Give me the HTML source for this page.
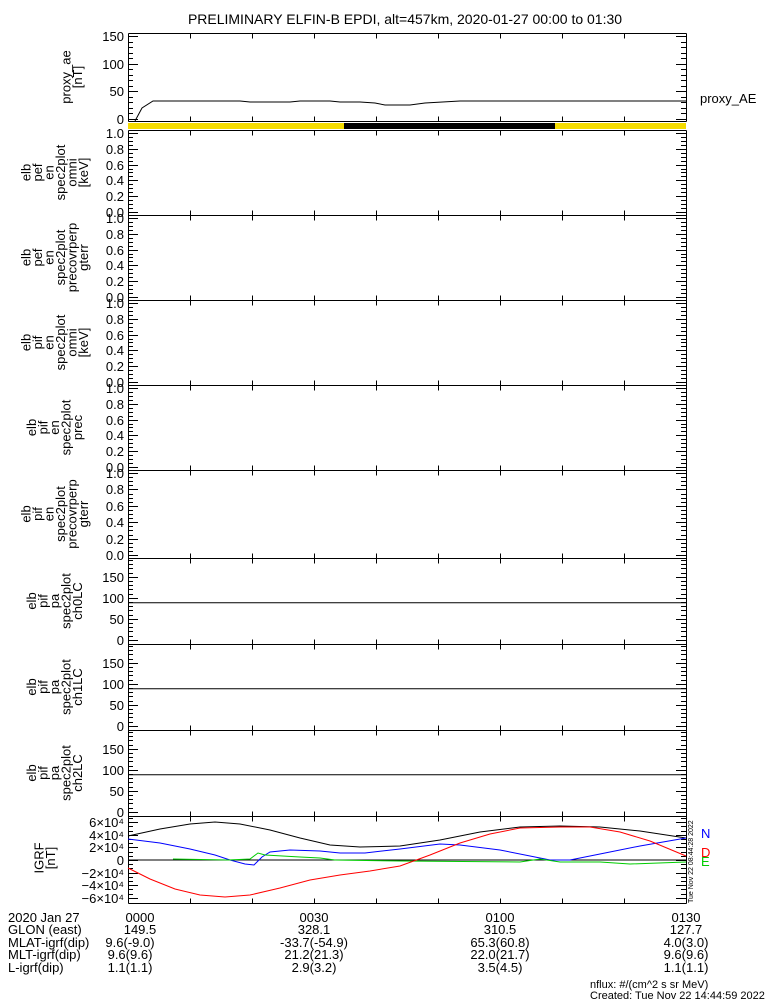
<!DOCTYPE html>
<html><head><meta charset="utf-8"><style>
html,body{margin:0;padding:0;background:#fff;}
svg{display:block;font-family:"Liberation Sans",sans-serif;}
</style></head><body>
<svg id="s" width="775" height="1000" viewBox="0 0 775 1000" xmlns="http://www.w3.org/2000/svg">
<text x="405" y="24" font-size="14" text-anchor="middle">PRELIMINARY ELFIN-B EPDI, alt=457km, 2020-01-27 00:00 to 01:30</text>
<g id="g" stroke="#000" fill="none" stroke-width="1"></g>
<g id="t" font-size="13" fill="#000"></g>
<rect x="128" y="123" width="216" height="6" fill="#f5dc00"/>
<rect x="344" y="123" width="211" height="6" fill="#000"/>
<rect x="555" y="123" width="131" height="6" fill="#f5dc00"/>
<polyline fill="none" stroke="#000" points="135,121 142,108 153,101 240,101 250,102 290,102 300,101 330,101 340,102 360,102 375,103 385,105 410,105 425,103 460,101 686,101"/>
<line x1="128" y1="860" x2="686" y2="860" stroke="#000"/>
<polyline fill="none" stroke="#000" points="128,836 160,829 190,824 215,822 240,824 270,830 300,838 330,845 360,847 400,846 440,840 480,832 520,827 560,826 600,827 640,831 686,838"/>
<polyline fill="none" stroke="#00f" points="128,839 160,843 190,849 215,855 230,860 245,864 254,865 262,857 270,852 290,850 320,851 340,853 365,853 400,849 440,844 460,845 500,850 530,856 550,860 570,860 600,854 640,846 686,838"/>
<polyline fill="none" stroke="#0c0" points="173,859 228,860 250,859 258,853 265,855 300,857 320,858 335,860 400,861 520,862 540,859 560,862 600,862 630,864 686,862"/>
<polyline fill="none" stroke="#f00" points="128,868 150,879 175,889 200,895 225,897 250,895 280,888 310,880 340,875 370,871 400,866 430,855 460,843 490,834 520,828 560,827 590,827 620,832 650,841 686,856"/>
<text x="700" y="103" font-size="13">proxy_AE</text>
<text x="701" y="838" font-size="13" fill="#00f">N</text>
<text x="701" y="857" font-size="13" fill="#f00">D</text>
<text x="701" y="866" font-size="13" fill="#0c0">E</text>
<text transform="translate(693,903) rotate(-90)" font-size="7">Tue Nov 22 08:44:28 2022</text>
<g font-size="13">
<text x="8" y="922">2020 Jan 27</text><text x="8" y="934">GLON (east)</text><text x="8" y="947">MLAT-igrf(dip)</text><text x="8" y="959">MLT-igrf(dip)</text><text x="8" y="972">L-igrf(dip)</text>
<g text-anchor="middle">
<text x="140" y="922">0000</text><text x="140" y="934">149.5</text><text x="130" y="947">9.6(-9.0)</text><text x="130" y="959">9.6(9.6)</text><text x="130" y="972">1.1(1.1)</text>
<text x="314" y="922">0030</text><text x="314" y="934">328.1</text><text x="314" y="947">-33.7(-54.9)</text><text x="314" y="959">21.2(21.3)</text><text x="314" y="972">2.9(3.2)</text>
<text x="500" y="922">0100</text><text x="500" y="934">310.5</text><text x="500" y="947">65.3(60.8)</text><text x="500" y="959">22.0(21.7)</text><text x="500" y="972">3.5(4.5)</text>
<text x="686" y="922">0130</text><text x="686" y="934">127.7</text><text x="686" y="947">4.0(3.0)</text><text x="686" y="959">9.6(9.6)</text><text x="686" y="972">1.1(1.1)</text>
</g>
<text x="590" y="988" font-size="11">nflux: #/(cm^2 s sr MeV)</text>
<text x="590" y="999" font-size="11">Created: Tue Nov 22 14:44:59 2022</text>
</g>
</svg>
<script>
var g=document.getElementById('g'),t=document.getElementById('t'),NS='http://www.w3.org/2000/svg';
function L(x1,y1,x2,y2){var l=document.createElementNS(NS,'line');l.setAttribute('x1',x1);l.setAttribute('y1',y1);l.setAttribute('x2',x2);l.setAttribute('y2',y2);g.appendChild(l);}
function T(x,y,s,a){var e=document.createElementNS(NS,'text');e.setAttribute('x',x);e.setAttribute('y',y);e.setAttribute('text-anchor',a||'end');e.textContent=s;t.appendChild(e);return e;}
function V(cx,cy,lines){var e=document.createElementNS(NS,'text');e.setAttribute('transform','translate('+cx+','+cy+') rotate(-90)');e.setAttribute('text-anchor','middle');var n=lines.length;lines.forEach(function(s,i){var sp=document.createElementNS(NS,'tspan');sp.setAttribute('x',0);sp.setAttribute('y',(i-(n-1)/2)*11.5+4);sp.textContent=s;e.appendChild(sp);});t.appendChild(e);}
function box(y0,y1){L(128.5,y0,686.5,y0);L(128.5,y1,686.5,y1);L(128.5,y0,128.5,y1);L(686.5,y0,686.5,y1);
 for(var i=1;i<9;i++){var x=128.5+i*62;L(x,y0,x,y0+5);L(x,y1,x,y1-5);}}
function yt(y0,y1,vals,fmt,minor){
 vals.forEach(function(v){L(128,v[0]+.5,138,v[0]+.5);L(686,v[0]+.5,676,v[0]+.5);T(124,v[0]+5,v[1]);});
 minor.forEach(function(y){L(128,y+.5,133,y+.5);L(686,y+.5,681,y+.5);});}
function range(a,b,s){var r=[];for(var y=a;y<=b+0.01;y+=s)r.push(Math.round(y));return r;}
box(33.5,121.5);
yt(33,121,[[36,'150'],[64,'100'],[91,'50'],[119,'0']],0,range(36,119,5.5));
V(72,77,['proxy_ae','[nT]']);
var tops=[130,215,300,385,470];
var labs=[['elb','pef','en','spec2plot','omni','[keV]'],['elb','pef','en','spec2plot','precovrperp','gterr'],['elb','pif','en','spec2plot','omni','[keV]'],['elb','pif','en','spec2plot','prec'],['elb','pif','en','spec2plot','precovrperp','gterr']];
tops.forEach(function(y0,k){var y1=(k==4)?558:y0+85;box(y0+.5,y1+.5);var a=y0+3,b=y1-3,h=b-a;
 var v=[];for(var i=0;i<=5;i++)v.push([Math.round(b-h*i/5),(i/5).toFixed(1)]);
 yt(y0,y1,v,0,range(a,b,h/20));V(55,(y0+y1)/2,labs[k]);});
[558,644,730].forEach(function(y0,k){var y1=y0+86;box(y0+.5,y1+.5);var sc=0.42,z=y1-4;
 var v=[[150,'150'],[100,'100'],[50,'50'],[0,'0']].map(function(p){return [Math.round(z-p[0]*sc),p[1]];});
 yt(y0,y1,v,0,range(y0+2,z,10*sc));L(128,z-90*sc+.5,686,z-90*sc+.5);
 V(55,(y0+y1)/2,['elb','pif','pa','spec2plot','ch'+k+'LC']);});
box(816.5,903.5);
var sc=38/60000;[[60000,'6×10⁴'],[40000,'4×10⁴'],[20000,'2×10⁴'],[0,'0'],[-20000,'−2×10⁴'],[-40000,'−4×10⁴'],[-60000,'−6×10⁴']].forEach(function(p){var y=Math.round(860-p[0]*sc);L(128,y+.5,138,y+.5);L(686,y+.5,676,y+.5);T(124,y+5,p[1]);});
range(818,900,4.2).forEach(function(y){L(128,y+.5,133,y+.5);L(686,y+.5,681,y+.5);});
V(45,858,['IGRF','[nT]']);
</script>
</body></html>
